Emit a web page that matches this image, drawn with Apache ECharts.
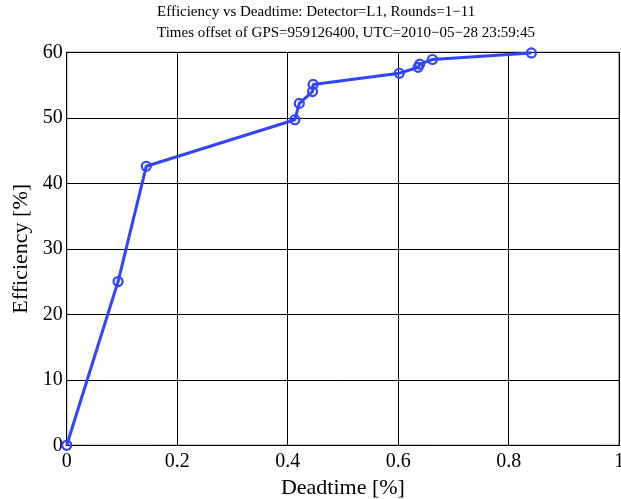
<!DOCTYPE html>
<html>
<head>
<meta charset="utf-8">
<script src="https://cdn.jsdelivr.net/npm/echarts@6/dist/echarts.min.js"></script>
<style>
  html, body { margin: 0; padding: 0; background: #fff; overflow: hidden; }
  #chart { width: 621px; height: 499px; }
</style>
</head>
<body>
<div id="chart"></div>
<script>
// Detector L1 efficiency against deadtime, rounds 1-11
const deadtime = [0, 0.093, 0.144, 0.413, 0.421, 0.445, 0.446, 0.602, 0.636, 0.639, 0.662, 0.841];
const efficiency = [0, 25.0, 42.6, 49.7, 52.2, 54.0, 55.1, 56.8, 57.7, 58.2, 58.9, 59.9];
const xTicks = [0, 0.2, 0.4, 0.6, 0.8, 1];
const yTicks = [0, 10, 20, 30, 40, 50, 60];
const titleLines = [
  'Efficiency vs Deadtime: Detector=L1, Rounds=1\u221211',
  'Times offset of GPS=959126400, UTC=2010\u221205\u221228 23:59:45'
];

const serif = '"Liberation Serif", "DejaVu Serif", serif';
const blue = '#2f45ff';

const chart = echarts.init(document.getElementById('chart'), null, { renderer: 'canvas' });
chart.setOption({
  animation: false,
  backgroundColor: '#fff',
  title: {
    text: titleLines.join('\n'),
    left: 157,
    top: 2,
    padding: 0,
    textStyle: {
      fontFamily: serif,
      fontWeight: 'normal',
      fontSize: 15,
      lineHeight: 21,
      color: '#000'
    }
  },
  grid: {
    left: 66.7,
    right: 1.8,
    top: 52.3,
    bottom: 53.7,
    containLabel: false,
    outerBoundsMode: 'none',
    show: true,
    borderColor: '#000',
    borderWidth: 1,
    backgroundColor: 'transparent'
  },
  xAxis: {
    type: 'value',
    min: xTicks[0],
    max: xTicks[xTicks.length - 1],
    interval: 0.2,
    name: 'Deadtime [%]',
    nameLocation: 'middle',
    nameGap: 32,
    nameTextStyle: { fontFamily: serif, fontSize: 22, color: '#000' },
    axisLine: { show: true, lineStyle: { color: '#000', width: 1 } },
    axisTick: { show: false },
    axisLabel: {
      fontFamily: serif, fontSize: 20, color: '#000', margin: 6,
      formatter: v => String(+v.toFixed(1))
    },
    splitLine: { show: true, lineStyle: { color: '#000', width: 1 } }
  },
  yAxis: {
    type: 'value',
    min: yTicks[0],
    max: yTicks[yTicks.length - 1],
    interval: 10,
    name: 'Efficiency [%]',
    nameLocation: 'middle',
    nameGap: 33,
    nameTextStyle: { fontFamily: serif, fontSize: 22, color: '#000' },
    axisLine: { show: true, lineStyle: { color: '#000', width: 1 } },
    axisTick: { show: false },
    axisLabel: { fontFamily: serif, fontSize: 20, color: '#000', margin: 4 },
    splitLine: { show: true, lineStyle: { color: '#000', width: 1 } }
  },
  series: [{
    type: 'line',
    data: deadtime.map((d, i) => [d, efficiency[i]]),
    symbol: 'circle',
    symbolSize: 9,
    showAllSymbol: true,
    lineStyle: { color: blue, width: 3 },
    itemStyle: { color: 'rgba(0,0,0,0)', borderColor: blue, borderWidth: 2.2 },
    clip: false
  }]
});
</script>
</body>
</html>
